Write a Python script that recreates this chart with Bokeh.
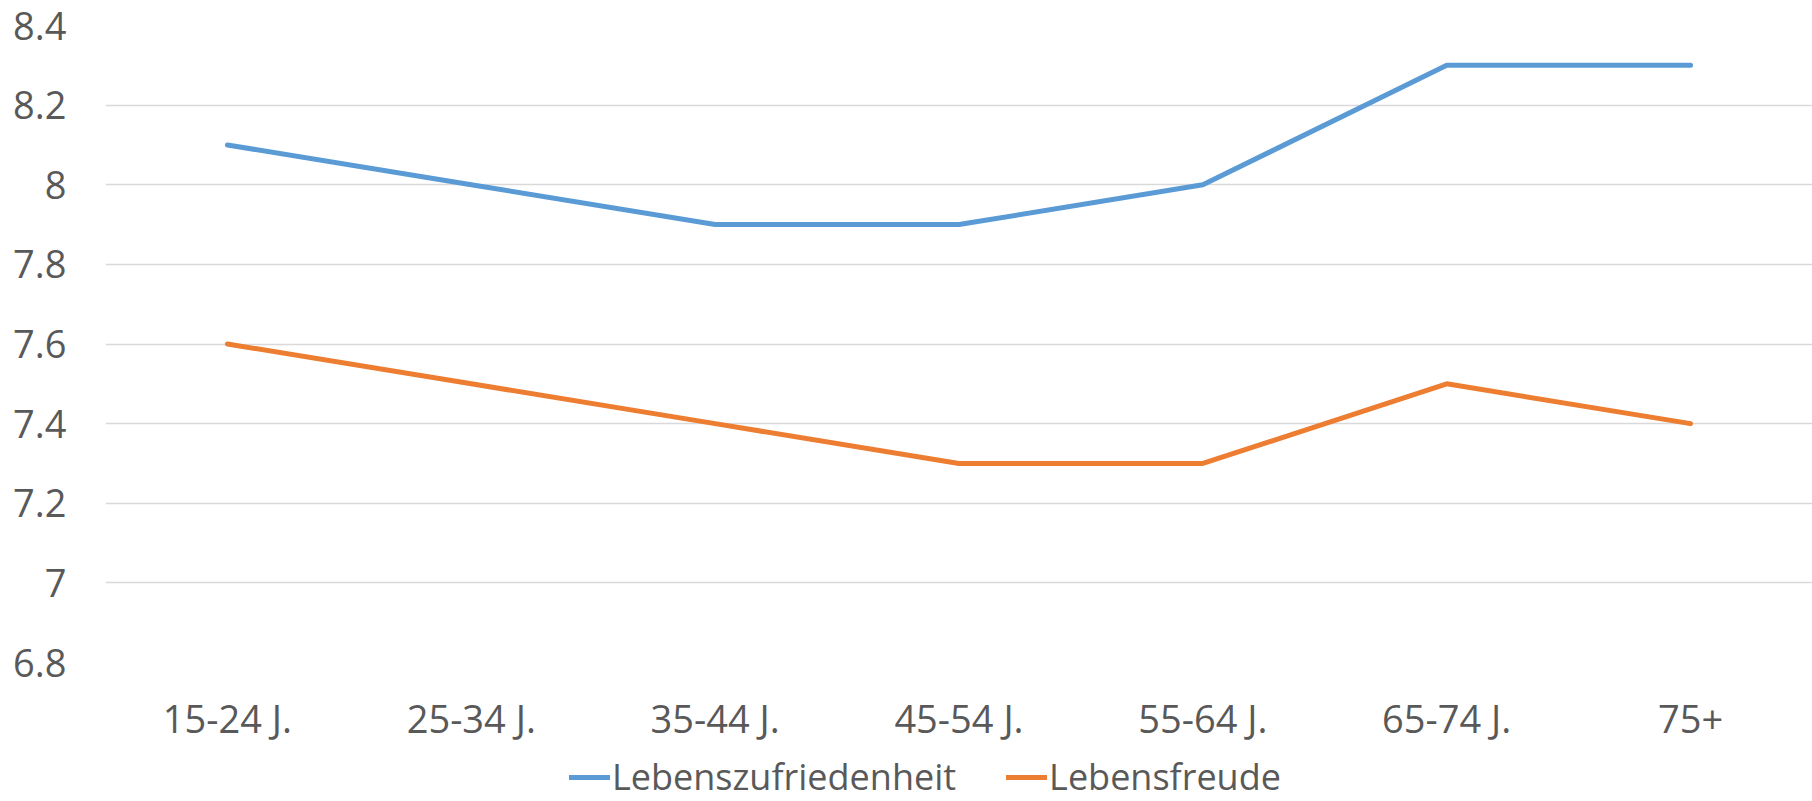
from bokeh.plotting import figure
from bokeh.layouts import column
from bokeh.models import (FactorRange, Range1d, FixedTicker, CustomJSTickFormatter,
                          Legend, LegendItem)
from bokeh.embed import file_html
from bokeh.resources import INLINE

# Age groups and the two survey scores per group
age_groups = ["15-24 J.", "25-34 J.", "35-44 J.", "45-54 J.", "55-64 J.", "65-74 J.", "75+"]
zufriedenheit = [8.1, 8.0, 7.9, 7.9, 8.0, 8.3, 8.3]
freude = [7.6, 7.5, 7.4, 7.3, 7.3, 7.5, 7.4]
y_ticks = [6.8, 7.0, 7.2, 7.4, 7.6, 7.8, 8.0, 8.2, 8.4]
series_names = ["Lebenszufriedenheit", "Lebensfreude"]

FONT = "Open Sans"
TEXT_COLOR = "#595959"
BLUE = "#5B9BD5"
ORANGE = "#ED7D31"
LINE_W = 5

W = 1812
MAIN_H = 746
LEGEND_H = 801 - MAIN_H

p = figure(
    width=W, height=MAIN_H,
    x_range=FactorRange(factors=age_groups),
    y_range=Range1d(6.8, 8.4),
    output_backend="svg", toolbar_location=None,
    min_border_left=105, min_border_right=0,
    min_border_top=25, min_border_bottom=MAIN_H - 664,
)
p.outline_line_color = None
p.background_fill_color = "white"
p.border_fill_color = "white"

# Grid: horizontal lines only
p.xgrid.grid_line_color = None
p.ygrid.grid_line_color = "#D9D9D9"
p.ygrid.grid_line_width = 1.5

# Y axis
p.yaxis.ticker = FixedTicker(ticks=y_ticks)
p.yaxis.formatter = CustomJSTickFormatter(code="return tick.toFixed(1).replace(/\\.0$/, '');")
p.yaxis.axis_line_color = None
p.yaxis.major_tick_line_color = None
p.yaxis.minor_tick_line_color = None
p.yaxis.major_tick_out = 0
p.yaxis.major_label_standoff = 39
p.yaxis.major_label_text_font = FONT
p.yaxis.major_label_text_font_size = "38px"
p.yaxis.major_label_text_color = TEXT_COLOR

# X axis
p.xaxis.axis_line_color = None
p.xaxis.major_tick_line_color = None
p.xaxis.major_tick_out = 0
p.xaxis.major_label_standoff = 29
p.xaxis.major_label_text_font = FONT
p.xaxis.major_label_text_font_size = "38px"
p.xaxis.major_label_text_color = TEXT_COLOR

p.line(age_groups, zufriedenheit, line_color=BLUE, line_width=LINE_W,
       line_cap="round", line_join="round")
p.line(age_groups, freude, line_color=ORANGE, line_width=LINE_W,
       line_cap="round", line_join="round")

# Legend strip underneath the chart (its frame lines up with the chart's frame)
lg = figure(
    width=W, height=LEGEND_H,
    x_range=Range1d(0, 1), y_range=Range1d(0, 1),
    x_axis_location=None, y_axis_location=None,
    output_backend="svg", toolbar_location=None,
    min_border=0,
)
lg.outline_line_color = None
lg.grid.visible = False
# key lines: data sits outside the visible range, only their legend swatches show
k1 = lg.line([5, 6], [5, 6], line_color=BLUE, line_width=LINE_W, line_cap="round")
k2 = lg.line([5, 6], [5, 6], line_color=ORANGE, line_width=LINE_W, line_cap="round")

legend = Legend(
    items=[LegendItem(label=series_names[0], renderers=[k1]),
           LegendItem(label=series_names[1], renderers=[k2])],
    orientation="horizontal",
    location=(464, 0),
    padding=0, margin=0, spacing=50,
    glyph_width=41, glyph_height=20, label_standoff=2,
    label_text_font=FONT, label_text_font_size="36px",
    label_text_line_height=0.3, label_height=20,
    label_text_color=TEXT_COLOR,
    border_line_color=None, background_fill_alpha=0,
)
lg.add_layout(legend, "center")

open("out.html", "w").write(file_html(column(p, lg, spacing=0), INLINE))
